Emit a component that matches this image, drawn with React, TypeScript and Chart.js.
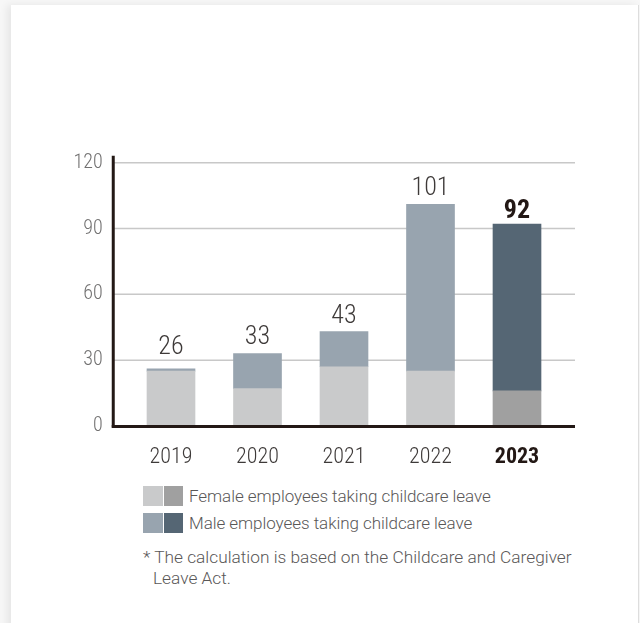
import React, { useEffect, useRef } from "react";
import { Chart, registerables } from "chart.js";

Chart.register(...registerables);

// ---- data ----
const years = ["2019", "2020", "2021", "2022", "2023"];
const femaleValues = [25, 17, 27, 25, 16];
const maleValues = [1, 16, 16, 76, 76];
const yTickValues = [0, 30, 60, 90, 120];
const femaleColors = ["#c9cacb", "#c9cacb", "#c9cacb", "#c9cacb", "#a0a0a0"];
const maleColors = ["#98a4af", "#98a4af", "#98a4af", "#98a4af", "#556674"];
const legendLabels = [
  "Female employees taking childcare leave",
  "Male employees taking childcare leave",
];
const legendSwatches = [
  ["#c9cacb", "#a0a0a0"],
  ["#98a4af", "#556674"],
];
const footnoteText = "The calculation is based on the Childcare and Caregiver Leave Act.";
const highlightIndex = 4;

// styling only
const labelGaps = [15, 10, 9, 9, 6];
const FONT = "'Roboto Condensed', Roboto, sans-serif";
const TEXT_FONT = "Roboto, sans-serif";

const axesPlugin = {
  id: "customAxes",
  beforeDatasetsDraw(chart: any) {
    const { ctx, chartArea } = chart;
    const y = chart.scales.y;
    const x0 = chartArea.left - 14.5;
    const x1 = chartArea.right + 14.75;
    ctx.save();
    ctx.strokeStyle = "#c8c8c8";
    ctx.lineWidth = 1.5;
    yTickValues.forEach((v) => {
      if (v === 0) return;
      const py = y.getPixelForValue(v);
      ctx.beginPath();
      ctx.moveTo(x0, py);
      ctx.lineTo(x1, py);
      ctx.stroke();
    });
    ctx.restore();
  },
  afterDatasetsDraw(chart: any) {
    const { ctx, chartArea } = chart;
    const x0 = chartArea.left - 14.5;
    const x1 = chartArea.right + 14.75;
    ctx.save();
    ctx.strokeStyle = "#231815";
    ctx.lineWidth = 3;
    ctx.beginPath();
    ctx.moveTo(x0, chartArea.top - 7);
    ctx.lineTo(x0, chartArea.bottom + 1.5);
    ctx.stroke();
    ctx.beginPath();
    ctx.moveTo(x0 - 1.5, chartArea.bottom + 0.5);
    ctx.lineTo(x1, chartArea.bottom + 0.5);
    ctx.stroke();

    // totals above bars
    const meta = chart.getDatasetMeta(1);
    meta.data.forEach((bar: any, i: number) => {
      const total = femaleValues[i] + maleValues[i];
      const bold = i === highlightIndex;
      ctx.font = `${bold ? "bold" : "300"} 26px ${FONT}`;
      ctx.fillStyle = bold ? "#231815" : "#3e3a39";
      ctx.textAlign = "center";
      ctx.textBaseline = "alphabetic";
      ctx.fillText(String(total), bar.x, bar.y - labelGaps[i]);
    });
    ctx.restore();
  },
};

function ChartCanvas() {
  const ref = useRef<HTMLCanvasElement | null>(null);
  useEffect(() => {
    if (!ref.current) return;
    const chart = new Chart(ref.current, {
      type: "bar",
      data: {
        labels: years,
        datasets: [
          {
            label: legendLabels[0],
            data: femaleValues,
            backgroundColor: femaleColors,
            barThickness: 48,
            borderWidth: 0,
          },
          {
            label: legendLabels[1],
            data: maleValues,
            backgroundColor: maleColors,
            barThickness: 48,
            borderWidth: 0,
          },
        ],
      },
      options: {
        responsive: false,
        animation: false,
        layout: { padding: { left: 0, right: 79.75, top: 162.7, bottom: 14 } },
        plugins: { legend: { display: false }, tooltip: { enabled: false } },
        scales: {
          x: {
            stacked: true,
            grid: { display: false, drawTicks: false },
            border: { display: false },
            ticks: {
              padding: 18,
              color: (c: any) => (c.index === highlightIndex ? "#231815" : "#3e3a39"),
              font: (c: any) => ({
                family: FONT,
                size: 22,
                weight: c.index === highlightIndex ? "bold" : "300",
              }),
            },
            afterFit: (s: any) => {
              s.height = 40;
            },
          },
          y: {
            stacked: true,
            min: 0,
            max: 120,
            grid: { display: false, drawTicks: false },
            border: { display: false },
            afterBuildTicks: (s: any) => {
              s.ticks = yTickValues.map((v) => ({ value: v }));
            },
            ticks: {
              padding: 25,
              color: "#727171",
              font: { family: FONT, size: 20, weight: "300" },
            },
            afterFit: (s: any) => {
              s.width = 127.75;
            },
          },
        },
      },
      plugins: [axesPlugin],
    });
    return () => chart.destroy();
  }, []);
  return (
    <canvas
      ref={ref}
      width={640}
      height={480}
      style={{ position: "absolute", left: 0, top: 0, width: 640, height: 480 }}
    />
  );
}

export default function App() {
  return (
    <div
      style={{
        position: "absolute",
        left: 0,
        top: 0,
        width: 640,
        height: 623,
        overflow: "hidden",
        background: "#f7f7f7",
        fontFamily: TEXT_FONT,
        fontWeight: 300,
      }}
    >
      <div
        style={{
          position: "absolute",
          left: 11,
          top: 5,
          width: 627,
          height: 700,
          background: "#ffffff",
          borderRight: "1px solid #dddddd",
          boxShadow: "-4px 0 8px rgba(0,0,0,0.07)",
        }}
      />
      <ChartCanvas />
      {legendLabels.map((label, r) => (
        <div
          key={label}
          style={{
            position: "absolute",
            left: 143,
            top: 486 + r * 27,
            height: 20,
            display: "flex",
            alignItems: "center",
          }}
        >
          <span style={{ width: 19.5, height: 19.5, background: legendSwatches[r][0], display: "inline-block" }} />
          <span style={{ width: 19.5, height: 19.5, marginLeft: 1, background: legendSwatches[r][1], display: "inline-block" }} />
          <span
            style={{
              marginLeft: 6,
              fontSize: 17,
              color: "#595757",
              whiteSpace: "nowrap",
              lineHeight: "20px",
              letterSpacing: -0.05,
            }}
          >
            {label}
          </span>
        </div>
      ))}
      <div
        style={{
          position: "absolute",
          left: 143,
          top: 547,
          width: 445,
          fontSize: 17.3,
          lineHeight: "21px",
          color: "#595757",
          paddingLeft: 10,
          textIndent: -10,
        }}
      >
        * {footnoteText}
      </div>
    </div>
  );
}
